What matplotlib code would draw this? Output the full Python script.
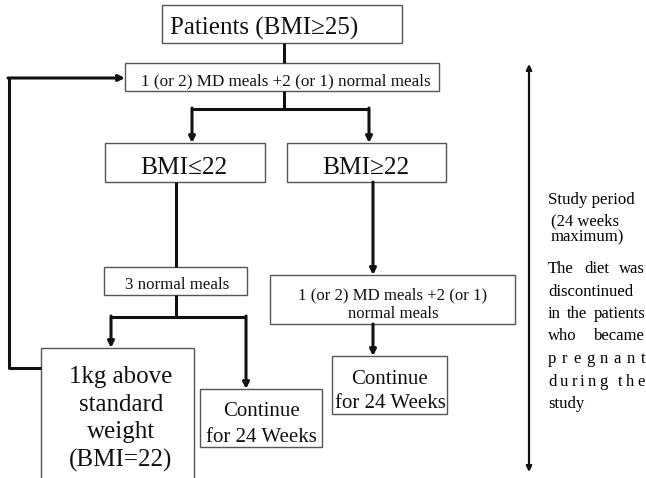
import matplotlib
matplotlib.use("Agg")
import matplotlib.pyplot as plt
from matplotlib.patches import Rectangle

plt.rcParams['font.family'] = ['Liberation Serif', 'DejaVu Serif']

# box labels
start_label = ["Patients (BMI\u226525)"]
md_label = ["1 (or 2) MD meals +2 (or 1) normal meals"]
low_label = ["BMI\u226422"]
high_label = ["BMI\u226522"]
normal_label = ["3 normal meals"]
md2_label = ["1 (or 2) MD meals +2 (or 1)", "normal meals"]
target_label = ["1kg above", "standard", "weight", "(BMI=22)"]
cont_label = ["Continue", "for 24 Weeks"]
period_label = "Study period"
period_note = ["(24 weeks", "maximum)"]
note_lines = [
    ["The", "diet", "was"],
    ["discontinued"],
    ["in", "the", "patients"],
    ["who", "became"],
    list("pregnant"),
    list("during") + [" "] + list("the"),
]
note_last = "study"

W, H = 646, 478
fig = plt.figure(figsize=(W / 100, H / 100), dpi=100)
ax = fig.add_axes([0, 0, 1, 1])
ax.set_xlim(0, W)
ax.set_ylim(H, 0)
ax.axis('off')

EC = '#555555'


def box(x0, y0, x1, y1, lines, size, cx, cy, step=0, clip=False):
    ax.add_patch(Rectangle((x0, y0), x1 - x0, y1 - y0, fill=False,
                           edgecolor=EC, linewidth=1.0, clip_on=clip))
    top = cy - step * (len(lines) - 1) / 2
    for k, s in enumerate(lines):
        ax.text(cx, top + k * step, s, ha='center', va='center_baseline',
                fontsize=size, color='#111111')


def line(xs, ys, lw=2.2):
    ax.plot(xs, ys, color='#111111', linewidth=lw, solid_capstyle='butt',
            solid_joinstyle='miter')


def arrow(x0, y0, x1, y1, lw=2.2):
    ax.annotate('', xy=(x1, y1), xytext=(x0, y0),
                arrowprops=dict(arrowstyle='-|>', color='#111111', lw=lw,
                                mutation_scale=9, shrinkA=0, shrinkB=0))


# boxes
box(162, 5, 402, 43, start_label, 18, 264, 26)
box(125, 63, 439, 91, md_label, 12.3, 286, 79)
box(105, 143, 265, 182, low_label, 18.3, 184, 165)
box(287, 143, 446, 182, high_label, 18.3, 366, 165)
box(104, 267, 247, 295, normal_label, 12.2, 177, 283)
box(270, 275, 515, 324, md2_label, 12.1, 393, 303, step=19)
box(41, 348, 194, 490, target_label, 18, 121, 416, step=27.5, clip=True)
box(200, 389, 322, 447, cont_label, 15, 261, 422, step=25)
box(332, 356, 447, 414, cont_label, 15, 390, 389, step=25)

# connectors
line([284, 284], [43, 63])
line([284, 284], [91, 109])
line([192, 369], [109, 109])
arrow(192, 108, 192, 143)
arrow(369, 108, 369, 143)
line([176, 176], [182, 267])
arrow(373, 182, 373, 275)
line([176, 176], [295, 317])
line([111, 246], [317, 317])
arrow(111, 316, 111, 348)
arrow(246, 316, 246, 389)
arrow(373, 324, 373, 356)
line([41, 9], [368, 368])
line([9, 9], [369, 77])
arrow(8, 78, 125, 78)

# study period double arrow
ax.annotate('', xy=(529, 64), xytext=(529, 472),
            arrowprops=dict(arrowstyle='<|-|>', color='#111111', lw=1.6,
                            mutation_scale=8, shrinkA=0, shrinkB=0))

ax.text(548, 200, period_label, ha='left', va='center', fontsize=12.2)
ax.text(551, 221, period_note[0], ha='left', va='center', fontsize=12)
ax.text(551, 237, period_note[1], ha='left', va='center', fontsize=12)

# justified note
fig.canvas.draw()
renderer = fig.canvas.get_renderer()
inv = ax.transData.inverted()
x_left, x_right = 548, 645
y0, dy = 269, 22.5
for i, tokens in enumerate(note_lines):
    y = y0 + i * dy
    arts = [ax.text(0, y, t, ha='left', va='center', fontsize=12)
            for t in tokens]
    widths = []
    for a in arts:
        bb = a.get_window_extent(renderer)
        p0 = inv.transform((bb.x0, bb.y0))
        p1 = inv.transform((bb.x1, bb.y0))
        widths.append(p1[0] - p0[0])
    if len(arts) == 1:
        arts[0].set_x(x_left)
        continue
    gap = (x_right - x_left - sum(widths)) / (len(arts) - 1)
    x = x_left
    for a, w in zip(arts, widths):
        a.set_x(x)
        x += w + gap
ax.text(x_left, y0 + len(note_lines) * dy, note_last, ha='left',
        va='center', fontsize=12)

fig.savefig('out.png', dpi=100)
